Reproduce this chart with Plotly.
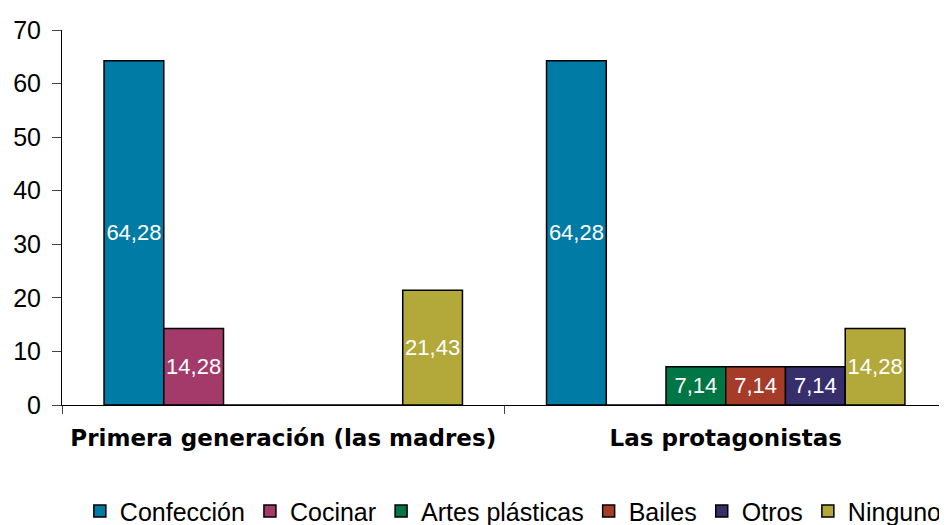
import plotly.graph_objects as go

categories = ["Primera generación (las madres)", "Las protagonistas"]
series_names = ["Confección", "Cocinar", "Artes plásticas", "Bailes", "Otros", "Ninguno"]
confeccion = [64.28, 64.28]
cocinar = [14.28, 0]
artes = [0, 7.14]
bailes = [0, 7.14]
otros = [0, 7.14]
ninguno = [21.43, 14.28]
colors = ["#007BA5", "#A43A6A", "#007545", "#A53C2A", "#372F6C", "#B3A83A"]

series = [confeccion, cocinar, artes, bailes, otros, ninguno]

fig = go.Figure()
for name, vals, col in zip(series_names, series, colors):
    labels = [f"{v:.2f}".replace(".", ",") if v > 0 else "" for v in vals]
    fig.add_trace(go.Bar(
        x=categories, y=vals, name=name,
        marker=dict(color=col, line=dict(color="black", width=1.5)),
        text=labels, textposition="inside", insidetextanchor="middle", textangle=0,
        textfont=dict(color="white", size=22, family="Liberation Sans"),
        constraintext="none",
    ))

# page adds an 8px body margin, so the figure is a bit smaller than the window
fig.update_layout(
    width=939, height=517,
    barmode="group", bargap=0.19, bargroupgap=0,
    plot_bgcolor="white", paper_bgcolor="white",
    margin=dict(l=54, r=0, t=22, b=120, autoexpand=False),
    font=dict(family="Liberation Sans", color="black"),
    showlegend=True,
    legend=dict(orientation="h", x=0.51, xanchor="center", y=-0.222, yanchor="top",
                font=dict(family="Liberation Sans", size=25),
                itemwidth=30, tracegroupgap=0),
)
fig.update_yaxes(range=[0, 70], dtick=10, showgrid=False, showline=True,
                 linecolor="black", linewidth=1, ticks="outside", ticklen=9,
                 tickfont=dict(size=25), zeroline=False, automargin=False,
                 ticklabelstandoff=6)
fig.update_xaxes(showline=True, linecolor="black", linewidth=1, ticks="outside",
                 tickson="boundaries", ticklen=8, automargin=False,
                 tickfont=dict(size=23, family="DejaVu Sans"), ticklabelstandoff=12,
                 ticktext=[f"<b>{c}</b>" for c in categories], tickvals=categories)

fig.write_html("out.html")
